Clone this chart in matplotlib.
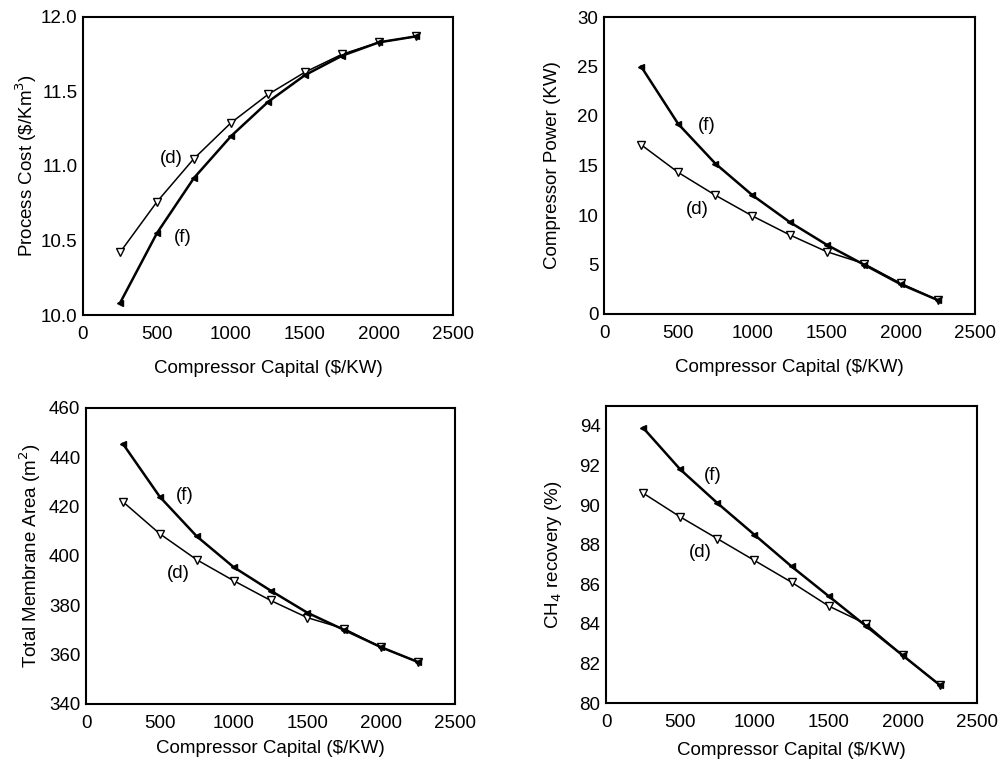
import numpy as np
import matplotlib
matplotlib.use("Agg")
import matplotlib.pyplot as plt

plt.rcParams['font.family'] = ['Liberation Sans', 'DejaVu Sans']

capital = [250, 500, 750, 1000, 1250, 1500, 1750, 2000, 2250]

cost_d = [10.42, 10.76, 11.05, 11.29, 11.48, 11.63, 11.75, 11.83, 11.87]
cost_f = [10.08, 10.55, 10.92, 11.20, 11.43, 11.61, 11.74, 11.83, 11.87]

power_d = [17.1, 14.3, 12.0, 9.9, 8.0, 6.3, 5.1, 3.1, 1.4]
power_f = [25.0, 19.2, 15.2, 12.0, 9.3, 7.0, 5.0, 3.0, 1.4]

area_d = [422, 409, 398.5, 390, 382, 375, 370.5, 363, 357]
area_f = [445.5, 424, 408, 395.5, 386, 377, 370, 363, 357]

rec_d = [90.6, 89.4, 88.3, 87.2, 86.1, 84.9, 84.0, 82.4, 80.9]
rec_f = [93.9, 91.8, 90.1, 88.5, 86.9, 85.4, 83.9, 82.4, 80.9]

W, H = 1002, 759
fig = plt.figure(figsize=(W / 100, H / 100), dpi=100)


def make_ax(left, top, right, bottom):
    return fig.add_axes([left / W, 1 - bottom / H, (right - left) / W, (bottom - top) / H])


panels = [
    # (box, d, f, ylim, yticks, fmt, ylabel, d-label pos, f-label pos, xlabel pad, ylabel pad)
    ((83, 17, 453, 315), cost_d, cost_f, (10.0, 12.0), np.arange(10.0, 12.01, 0.5), '%.1f',
     r'Process Cost (\$/Km$^3$)', (600, 11.05), (676, 10.52), 12, 1),
    ((604, 17, 975, 314), power_d, power_f, (0, 30), np.arange(0, 31, 5), '%d',
     'Compressor Power (KW)', (627, 10.6), (694, 19.0), 12, 12),
    ((86, 408, 455, 704), area_d, area_f, (340, 460), np.arange(340, 461, 20), '%d',
     'Total Membrane Area (m$^2$)', (623, 393), (671, 424.7), 6, 4.5),
    ((606, 406, 977, 703), rec_d, rec_f, (80, 95), np.arange(80, 95, 2), '%d',
     'CH$_4$ recovery (%)', (633, 87.6), (721, 91.5), 8, 11),
]

for box, d, f, ylim, yticks, fmt, ylabel, dpos, fpos, xpad, ypad in panels:
    ax = make_ax(*box)
    ax.plot(capital, d, color='black', lw=1.1, marker='v', ms=6,
            mfc='white', mec='black', mew=1.0)
    ax.plot(capital, f, color='black', lw=1.8, marker='<', ms=4,
            mfc='black', mec='black')
    ax.set_xlim(0, 2500)
    ax.set_ylim(*ylim)
    ax.set_xticks(np.arange(0, 2501, 500))
    ax.set_yticks(yticks)
    ax.set_yticklabels([fmt % v for v in yticks])
    ax.tick_params(length=0, labelsize=13.5)
    ax.tick_params(axis='x', pad=8)
    ax.tick_params(axis='y', pad=4)
    for s in ax.spines.values():
        s.set_linewidth(1.5)
    ax.set_xlabel('Compressor Capital ($/KW)', fontsize=13.5, labelpad=xpad)
    ax.set_ylabel(ylabel, fontsize=13.5, labelpad=ypad)
    ax.text(dpos[0], dpos[1], '(d)', fontsize=13.5, ha='center', va='center')
    ax.text(fpos[0], fpos[1], '(f)', fontsize=13.5, ha='center', va='center')

fig.savefig('out.png', dpi=100)
